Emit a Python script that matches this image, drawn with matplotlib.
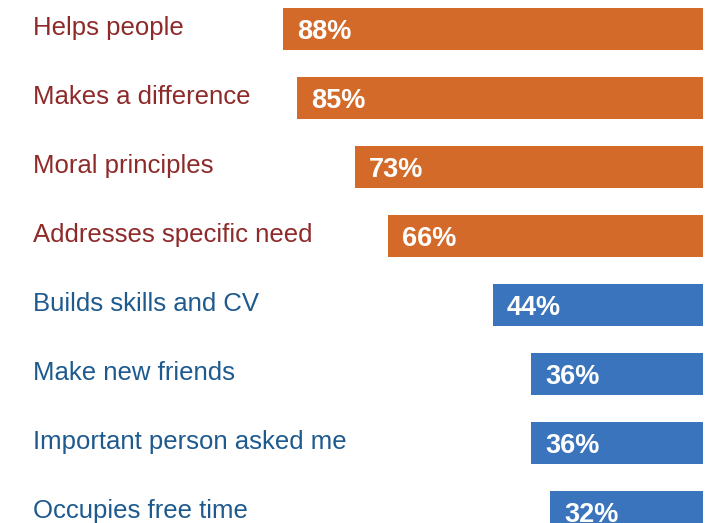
import matplotlib.pyplot as plt

reasons = ['Helps people', 'Makes a difference', 'Moral principles',
           'Addresses specific need', 'Builds skills and CV', 'Make new friends',
           'Important person asked me', 'Occupies free time']
values = [88, 85, 73, 66, 44, 36, 36, 32]
groups = ['altruistic'] * 4 + ['personal'] * 4

bar_colors = {'altruistic': '#D46A29', 'personal': '#3A74BC'}
text_colors = {'altruistic': '#8E2A2A', 'personal': '#1E5A8E'}

plt.rcParams['font.family'] = ['Liberation Sans', 'DejaVu Sans']

fig = plt.figure(figsize=(7.09, 5.23), dpi=100)
ax = fig.add_axes([0, 0, 1, 1])

ypos = list(range(len(values)))
ax.barh(ypos, values, height=0.61, left=0,
        color=[bar_colors[g] for g in groups])

# category labels on the left, value labels inside the bars
for y, label, v, g in zip(ypos, reasons, values, groups):
    ax.text(140.4, y + 0.09, label, ha='left', va='baseline',
            fontsize=18.5, color=text_colors[g])
    ax.text(v - 2.9, y + 0.14, f'{v}%', ha='left', va='baseline',
            fontsize=19.5, fontweight='bold', color='white')

ax.set_xlim(147.35, -1.26)
ax.set_ylim(7.16, -0.42)
ax.axis('off')

fig.savefig('out.png', dpi=100)
